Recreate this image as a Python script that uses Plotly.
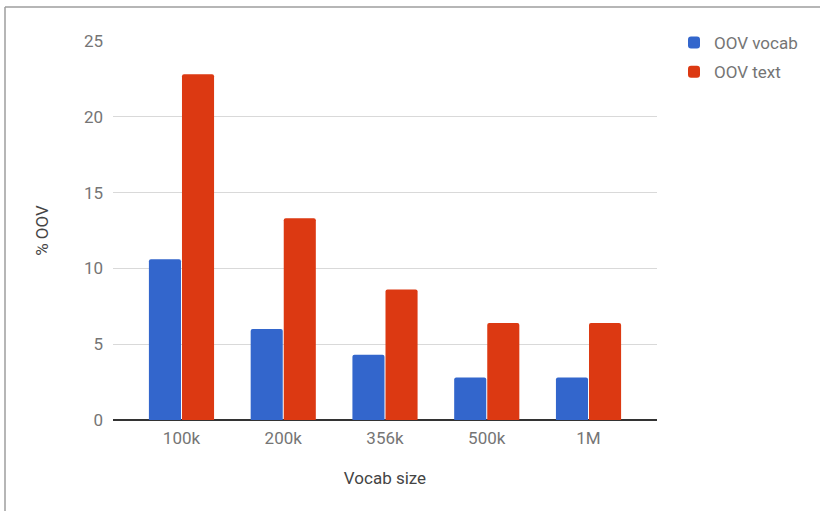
import plotly.graph_objects as go

categories = ["100k", "200k", "356k", "500k", "1M"]
oov_vocab = [10.6, 6.0, 4.3, 2.8, 2.8]
oov_text = [22.8, 13.3, 8.6, 6.4, 6.4]
y_ticks = [0, 5, 10, 15, 20, 25]

W, H = 820, 511
L, R, T, B = 113, 163, 41, 91
pw, ph = W - L - R, H - T - B

def px(x):
    return (x - L) / pw

def py(y):
    return (H - B - y) / ph

fig = go.Figure()
fig.add_trace(go.Bar(name="OOV vocab", x=categories, y=oov_vocab, legendgroup="a",
                     marker=dict(color="#3366cc", line=dict(width=0), cornerradius=2)))
fig.add_trace(go.Bar(name="OOV text", x=categories, y=oov_text, legendgroup="b",
                     marker=dict(color="#dc3912", line=dict(width=0), cornerradius=2)))

fig.update_layout(
    width=W, height=H,
    margin=dict(l=L, r=R, t=T, b=B),
    paper_bgcolor="white", plot_bgcolor="white",
    font=dict(family="Roboto", size=17, color="#757575"),
    barmode="group", bargap=0.35, bargroupgap=0.03,
    showlegend=True,
    legend=dict(x=px(674), y=py(25), xanchor="left", yanchor="top",
                font=dict(size=17, color="#757575"), itemwidth=30,
                tracegroupgap=4, bgcolor="rgba(0,0,0,0)"),
    xaxis=dict(showgrid=False, ticks="", showline=False, range=[-0.673, 4.673],
               ticklabelstandoff=6,
               tickfont=dict(size=17, color="#757575"),
               title=dict(text="Vocab size", font=dict(size=17, color="#444444"), standoff=25)),
    yaxis=dict(range=[0, 25], tickvals=y_ticks, showgrid=True, gridcolor="#d9d9d9",
               zeroline=True, zerolinecolor="#333333", zerolinewidth=1.5,
               ticks="", showline=False, ticklabelstandoff=9,
               tickfont=dict(size=17, color="#757575"),
               title=dict(text="% OOV", font=dict(size=17, color="#444444"), standoff=30)),
    shapes=[
        dict(type="line", xref="paper", yref="paper", x0=px(5), x1=px(820), y0=py(7), y1=py(7),
             line=dict(color="#9e9e9e", width=1.5)),
        dict(type="line", xref="paper", yref="paper", x0=px(5), x1=px(5), y0=py(7), y1=py(511),
             line=dict(color="#9e9e9e", width=1.5)),
    ],
)

fig.write_html("out.html")
